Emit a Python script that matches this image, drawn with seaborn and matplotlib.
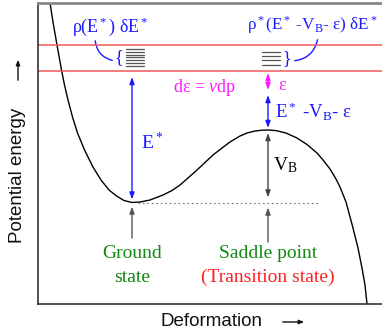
import matplotlib
matplotlib.use("Agg")
import matplotlib.pyplot as plt
import seaborn as sns
import pandas as pd
from matplotlib.patches import FancyArrowPatch

# ---- data (deformation, potential energy) ----
deformation = [12, 15, 19, 23.5, 26.5, 30, 34.5, 39.5, 47, 55, 63, 71, 78.5, 86, 94, 102,
               112, 125, 134, 142, 150, 159, 167, 175, 184, 192, 202, 209, 217, 224,
               230, 238, 248, 259, 269, 279, 285, 292, 298, 302, 308, 315, 320, 324,
               327, 329]
energy = [301, 282, 259, 234, 219, 204, 187, 171, 153, 137, 124, 114, 108, 103.5,
          101.5, 102, 104, 109, 113.5, 119, 126, 134, 141.5, 149, 156, 162, 168, 171,
          173, 173.8, 174, 173.4, 171, 166, 159.5, 151, 144, 135, 125, 117, 102, 76, 56,
          36, 19, 0]

ground_x, ground_E = 94, 101.5
saddle_x, saddle_E = 230, 174
band_top, band_bottom = 259, 233.5
excited_E = 227
left_levels = [254.7, 252, 249.3, 246.7, 244, 241.3, 238]
right_levels = [252.3, 248, 244, 239]
eps_top, eps_bottom = 231, 214

df = pd.DataFrame({"Deformation": deformation, "Potential energy": energy})

sns.set_theme(style="white")
plt.rcParams["font.family"] = ["Liberation Serif", "DejaVu Serif"]
plt.rcParams["mathtext.fontset"] = "custom"
plt.rcParams["mathtext.rm"] = "Liberation Serif"
plt.rcParams["mathtext.it"] = "Liberation Serif:italic"

fig = plt.figure(figsize=(3.82, 3.33), dpi=100)
ax = fig.add_axes([38/382, 29/333, 344/382, 301/333])

sns.lineplot(data=df, x="Deformation", y="Potential energy", ax=ax,
             color="black", lw=1.0, sort=False, estimator=None)

ax.set_xlim(0, 344)
ax.set_ylim(0, 301)
ax.set_xticks([])
ax.set_yticks([])
ax.set_xlabel("")
ax.set_ylabel("")
for s in ["left", "bottom"]:
    ax.spines[s].set_color("#333333")
    ax.spines[s].set_linewidth(1.2)
ax.spines["top"].set_color("#888888")
ax.spines["top"].set_linewidth(2)
ax.spines["right"].set_visible(False)

BLUE = "#1a1aff"
MAG = "#ff1aff"
GREEN = "#108a10"
RED = "#ff2020"

# energy band lines
ax.axhline(band_top, color="#f05a5a", lw=1.1)
ax.axhline(band_bottom, color="#f05a5a", lw=1.1)

# dotted ground level
ax.plot([100, 282], [ground_E, ground_E], color="#777777", lw=0.8, ls=(0, (1.5, 2.5)))

# level lines
for e in left_levels:
    ax.plot([88, 106], [e, e], color="#555555", lw=0.9)
for e in right_levels:
    ax.plot([224, 242], [e, e], color="#555555", lw=0.9)

def arrow(x, y0, y1, color, style="<|-|>"):
    ax.annotate("", xy=(x, y1), xytext=(x, y0),
                arrowprops=dict(arrowstyle=style + ",head_length=0.5,head_width=0.18",
                                color=color, lw=1.0, shrinkA=0, shrinkB=0,
                                mutation_scale=8))

arrow(ground_x, ground_E + 3, excited_E, BLUE)
arrow(ground_x, 66, ground_E - 4, "#555555", "-|>")
arrow(saddle_x, saddle_E - 3, ground_E + 5, "#444444")
arrow(saddle_x, 62, ground_E - 5, "#555555", "-|>")
arrow(saddle_x, saddle_E + 2, 209, BLUE)
arrow(saddle_x, eps_bottom, eps_top, MAG)

# braces and connectors
ax.text(81, 246, "{", color=BLUE, fontsize=13, ha="center", va="center")
ax.text(249, 245, "}", color=BLUE, fontsize=13, ha="center", va="center")
ax.add_patch(FancyArrowPatch((57, 266), (77, 243), arrowstyle="-", color=BLUE, lw=1.0,
                             connectionstyle="arc3,rad=0.4"))
ax.add_patch(FancyArrowPatch((254, 243), (280, 267), arrowstyle="-", color=BLUE, lw=1.0,
                             connectionstyle="arc3,rad=0.4"))

# texts
ax.text(34, 277, r"ρ(E$^*$) δE$^*$", color=BLUE, fontsize=13, ha="left", va="center")
ax.text(209, 279, r"ρ$^*$(E$^*$ -V$_\mathrm{B}$- ε) δE$^*$", color=BLUE, fontsize=12.3,
        ha="left", va="center", clip_on=False)
ax.text(135, 216, r"dε = $\mathit{ν}$dp", color=MAG, fontsize=13, ha="left", va="center")
ax.text(240, 219, "ε", color=MAG, fontsize=13, ha="left", va="center")
ax.text(237, 192, r"E$^*$ -V$_\mathrm{B}$- ε", color=BLUE, fontsize=13.5, ha="left", va="center")
ax.text(103, 161, r"E$^*$", color=BLUE, fontsize=14, ha="left", va="center")
ax.text(235, 139, r"V$_\mathrm{B}$", color="black", fontsize=14, ha="left", va="center")
ax.text(ground_x, 51, "Ground", color=GREEN, fontsize=14, ha="center", va="center")
ax.text(ground_x, 27, "state", color=GREEN, fontsize=14, ha="center", va="center")
ax.text(saddle_x, 51, "Saddle point", color=GREEN, fontsize=14, ha="center", va="center")
ax.text(saddle_x, 27, "(Transition state)", color=RED, fontsize=14, ha="center", va="center")

# axis labels
SANS = ["Liberation Sans", "DejaVu Sans"]
fig.text(211/382, 1 - 322/333, "Deformation", family=SANS, fontsize=13.5,
         ha="center", va="center", color="#111111")
fig.text(18/382, 1 - 175/333, "Potential energy", family=SANS, fontsize=13.5,
         ha="center", va="center", rotation=90, color="#111111")
fig.add_artist(FancyArrowPatch((280/382, 1 - 322/333), (307/382, 1 - 322/333),
                               transform=fig.transFigure, arrowstyle="-|>,head_length=0.5,head_width=0.2",
                               mutation_scale=6, color="#111111", lw=1.0))
fig.add_artist(FancyArrowPatch((18/382, 1 - 83/333), (18/382, 1 - 57/333),
                               transform=fig.transFigure, arrowstyle="-|>,head_length=0.5,head_width=0.2",
                               mutation_scale=6, color="#111111", lw=1.0))

fig.savefig("out.png", dpi=100)
